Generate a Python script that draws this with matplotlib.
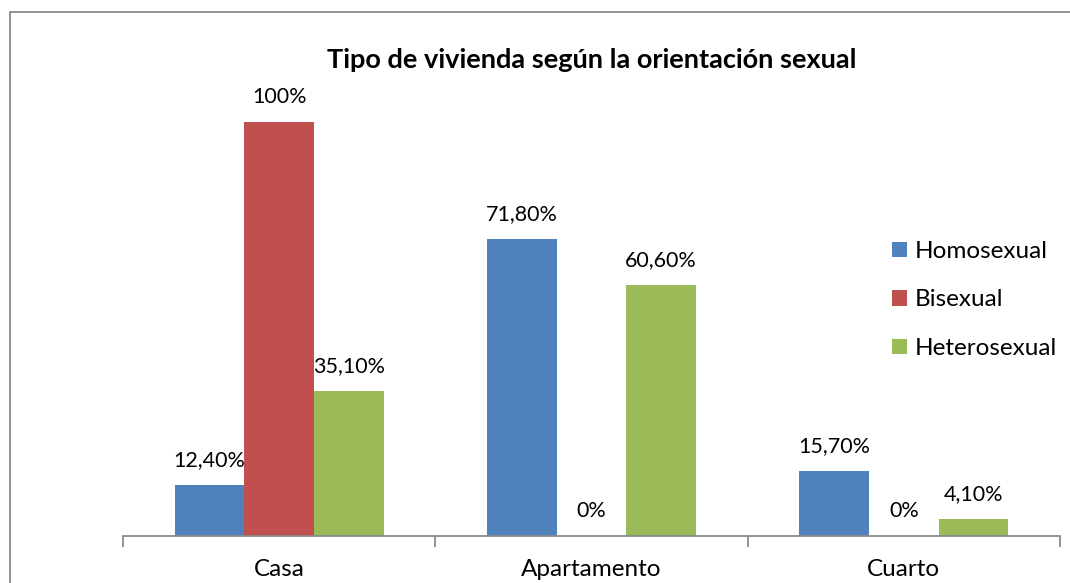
import matplotlib
matplotlib.use("Agg")
import matplotlib.pyplot as plt
from matplotlib.patches import Rectangle
import numpy as np

categories = ["Casa", "Apartamento", "Cuarto"]
series_names = ["Homosexual", "Bisexual", "Heterosexual"]
homosexual = [12.4, 71.8, 15.7]
bisexual = [100.0, 0.0, 0.0]
heterosexual = [35.1, 60.6, 4.1]
value_labels = [
    ["12,40%", "71,80%", "15,70%"],
    ["100%", "0%", "0%"],
    ["35,10%", "60,60%", "4,10%"],
]
colors = ["#4F81BD", "#C0504D", "#9BBB59"]
title = "Tipo de vivienda según la orientación sexual"

plt.rcParams["font.family"] = ["Lato", "DejaVu Sans"]

W, H = 1070, 583
fig = plt.figure(figsize=(W / 100, H / 100), dpi=100)

# chart frame (only left and top edges visible in the original)
fig.patches.append(Rectangle((10 / W, -0.1), 1.2, (H - 12) / H + 0.1,
                             transform=fig.transFigure, fill=False,
                             edgecolor="#8a8a8a", linewidth=1.3))

ax_bottom = (H - 536) / H
ax_height = 414 * 1.2 / H
ax = fig.add_axes([123 / W, ax_bottom, 937 / W, ax_height])
ax.set_ylim(0, 120)
ax.set_xlim(-0.5, 2.5)

x = np.arange(len(categories))
bw = 0.223
data = [homosexual, bisexual, heterosexual]
for i, (vals, name, col) in enumerate(zip(data, series_names, colors)):
    ax.bar(x + (i - 1) * bw, vals, bw, color=col, label=name, zorder=2)

for i, vals in enumerate(data):
    for j, v in enumerate(vals):
        ax.text(x[j] + (i - 1) * bw, v + 6, value_labels[i][j],
                ha="center", va="center", fontsize=15.5, color="black", zorder=3)

for s in ["left", "right", "top"]:
    ax.spines[s].set_visible(False)
ax.spines["bottom"].set_color("#8a8a8a")
ax.spines["bottom"].set_linewidth(1.3)
ax.set_yticks([])
ax.set_xticks([-0.5, 0.5, 1.5, 2.5])
ax.set_xticklabels([])
ax.tick_params(axis="x", length=8, width=1.3, color="#8a8a8a", direction="out")
for j, c in enumerate(categories):
    ax.text(x[j], -8, c, ha="center", va="center", fontsize=17.5, color="black")

fig.text(592 / W, 1 - 60 / H, title, ha="center", va="center",
         fontsize=19.5, fontweight="bold")

leg = ax.legend(loc="upper left", bbox_to_anchor=(892 / W, 1 - 241 / H),
                bbox_transform=fig.transFigure, frameon=False, fontsize=17.5,
                borderpad=0, borderaxespad=0,
                handlelength=0.6, handleheight=0.6, handletextpad=0.35,
                labelspacing=1.13)

fig.savefig("out.png", dpi=100)
